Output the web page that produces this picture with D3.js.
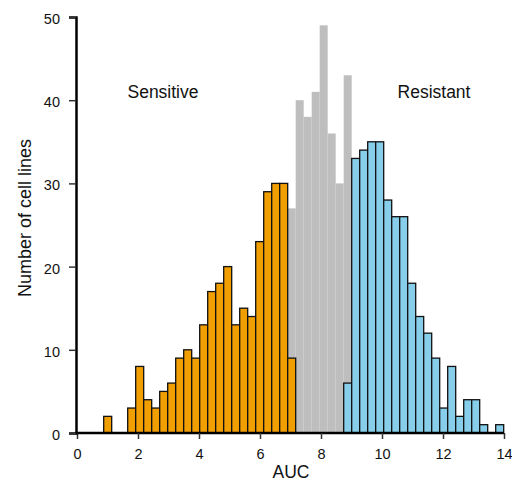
<!DOCTYPE html>
<html><head><meta charset="utf-8">
<script src="https://cdn.jsdelivr.net/npm/d3@7"></script>
<style>body{margin:0;background:#fff}svg{display:block}text{font-family:"Liberation Sans",Arial,sans-serif}</style>
</head><body><svg id="c" width="512" height="483"></svg>
<script>
// Histogram bins (AUC), 50 bins
const binStart = 0.875;
const binWidth = 0.2623;
// total counts per bin (all cell lines)
const totalCounts = [2,0,0,3,8,4,3,5,6,9,10,9,13,17,18,20,13,15,14,23,29,30,30,27,40,38,41,49,36,30,43,33,34,35,35,28,26,26,18,14,12,9,3,8,2,4,4,1,0,1];
// sensitive counts per bin
const sensitiveCounts = [2,0,0,3,8,4,3,5,6,9,10,9,13,17,18,20,13,15,14,23,29,30,30,9,0,0,0,0,0,0,0,0,0,0,0,0,0,0,0,0,0,0,0,0,0,0,0,0,0,0];
// resistant counts per bin
const resistantCounts = [0,0,0,0,0,0,0,0,0,0,0,0,0,0,0,0,0,0,0,0,0,0,0,0,0,0,0,0,0,0,6,33,34,35,35,28,26,26,18,14,12,9,3,8,2,4,4,1,0,1];
const xTicks = [0,2,4,6,8,10,12,14];
const yTicks = [0,10,20,30,40,50];
const labels = {x:"AUC", y:"Number of cell lines", left:"Sensitive", right:"Resistant"};

const svg = d3.select("#c");
const x = d3.scaleLinear().domain([0,14]).range([77,504]);
const y = d3.scaleLinear().domain([0,50]).range([433,17]);

function bars(counts, fill, stroke){
  svg.append("g").selectAll("rect").data(counts.map((c,i)=>({c,i})).filter(d=>d.c>0))
    .join("rect")
    .attr("x", d=>x(binStart+d.i*binWidth))
    .attr("width", d=>x(binStart+(d.i+1)*binWidth)-x(binStart+d.i*binWidth))
    .attr("y", d=>y(d.c))
    .attr("height", d=>y(0)-y(d.c))
    .attr("fill", fill)
    .attr("stroke", stroke)
    .attr("stroke-width", stroke==="none"?0:1.3);
}
bars(totalCounts, "#bebebe", "none");
bars(sensitiveCounts, "#f09e00", "#111");
bars(resistantCounts, "#87ceeb", "#111");

const xa = svg.append("g").attr("transform","translate(0,433)")
  .call(d3.axisBottom(x).tickValues(xTicks).tickSizeOuter(0).tickSize(6).tickPadding(10));
const ya = svg.append("g").attr("transform","translate(76,0)")
  .call(d3.axisLeft(y).tickValues(yTicks).tickSizeOuter(0).tickSize(7).tickPadding(9));
[xa,ya].forEach(a=>{
  a.select(".domain").attr("stroke","#000").attr("stroke-width",2.5);
  a.selectAll(".tick line").attr("stroke","#333").attr("stroke-width",1.5);
  a.selectAll(".tick text").attr("font-size",14.5).attr("fill","#111").style("font-family","Liberation Sans, Arial, sans-serif");
});
ya.selectAll(".tick text").attr("dy","0.45em");
xa.select(".domain").attr("d","M75,0H504");

svg.append("text").attr("x",291).attr("y",478).attr("text-anchor","middle").attr("font-size",17.5).attr("fill","#111").text(labels.x);
svg.append("text").attr("transform","translate(31,218) rotate(-90)").attr("text-anchor","middle").attr("font-size",18).attr("fill","#111").text(labels.y);
svg.append("text").attr("x",163).attr("y",98).attr("text-anchor","middle").attr("font-size",17.5).attr("fill","#111").text(labels.left);
svg.append("text").attr("x",434).attr("y",98).attr("text-anchor","middle").attr("font-size",17.5).attr("fill","#111").text(labels.right);
</script></body></html>
